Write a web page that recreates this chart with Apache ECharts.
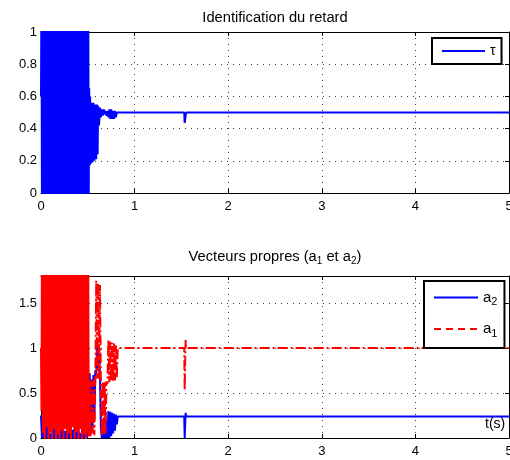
<!DOCTYPE html>
<html><head><meta charset="utf-8">
<script src="https://cdn.jsdelivr.net/npm/echarts@6/dist/echarts.min.js"></script>
<style>html,body{margin:0;padding:0;background:#fff;overflow:hidden}#c{width:510px;height:460px}</style>
</head><body><div id="c"></div>
<script>
// ---- data ----
const xTicks = [0, 1, 2, 3, 4, 5];
const tauTicks = [0, 0.2, 0.4, 0.6, 0.8, 1];
const aTicks = [0, 0.5, 1, 1.5];
const aMax = 1.8;

// tau(t) : identified delay
const tau = [
 [0,0.6],[0.005,1.3],[0.01,-0.05],[0.02,1.2],[0.03,-0.04],[0.04,1.4],[0.05,-0.05],[0.06,1.2],[0.07,-0.05],[0.075,1.2],[0.08,-0.05],[0.083,0.85],[0.087,-0.04],[0.09,1.3],
 [0.10,-0.05],[0.11,1.3],[0.12,-0.04],[0.13,1.5],[0.14,-0.05],[0.15,1.2],[0.16,-0.04],[0.17,1.3],[0.18,-0.05],[0.19,1.4],
 [0.20,-0.05],[0.21,1.2],[0.22,-0.03],[0.23,1.3],[0.24,-0.05],[0.25,1.5],[0.26,-0.05],[0.27,1.2],[0.28,-0.04],[0.29,1.3],
 [0.30,-0.05],[0.31,1.4],[0.32,-0.05],[0.33,1.2],[0.34,-0.03],[0.35,1.3],[0.36,-0.05],[0.37,1.5],[0.38,-0.05],[0.39,1.2],
 [0.40,-0.04],[0.41,1.3],[0.42,-0.05],[0.43,1.4],[0.44,-0.05],[0.45,1.2],[0.46,-0.03],[0.47,1.3],[0.48,-0.05],[0.49,1.5],
 [0.50,-0.05],[0.505,1.2],[0.51,-0.05],[0.515,0.65],[0.52,0.17],[0.525,0.6],[0.53,0.18],[0.54,0.56],[0.55,0.19],[0.56,0.56],
 [0.57,0.2],[0.58,0.55],[0.59,0.21],[0.60,0.55],[0.605,0.24],[0.61,0.54],[0.62,0.42],[0.63,0.53],[0.64,0.47],
 [0.65,0.52],[0.66,0.48],[0.67,0.52],[0.68,0.49],[0.69,0.51],[0.70,0.48],[0.71,0.51],[0.72,0.47],[0.73,0.52],
 [0.74,0.46],[0.75,0.52],[0.76,0.46],[0.77,0.51],[0.78,0.46],[0.79,0.51],[0.80,0.47],[0.81,0.5],[0.82,0.5],
 [1.53,0.5],[1.535,0.435],[1.545,0.435],[1.55,0.5],[5,0.5]
];

// a2(t) : eigenvector component (blue)
const a2 = [
 [0,0.25],[0.01,0],[0.02,0.1],[0.03,0],[0.04,0.06],[0.05,0],[0.06,0.3],[0.07,0],[0.08,0.12],[0.09,0],
 [0.10,0.05],[0.11,0],[0.12,0.08],[0.13,0],[0.14,0.15],[0.15,0],[0.16,0.04],[0.17,0],[0.18,0.1],[0.19,0],
 [0.20,0.06],[0.21,0],[0.22,0.12],[0.23,0],[0.24,0.05],[0.25,0],[0.26,0.08],[0.27,0],[0.28,0.1],[0.29,0],
 [0.30,0.14],[0.31,0],[0.32,0.06],[0.33,0],[0.34,0.09],[0.35,0],[0.36,0.12],[0.37,0],[0.38,0.07],[0.39,0],
 [0.40,0.1],[0.41,0],[0.42,0.05],[0.43,0],[0.44,0.11],[0.45,0],[0.46,0.08],[0.47,0],[0.48,0.06],[0.49,0],
 [0.50,0.2],[0.51,0.3],[0.52,0.72],[0.53,0.05],[0.54,0.65],[0.55,0.1],[0.56,0.7],[0.57,0.2],[0.58,0.75],
 [0.59,0.7],[0.60,1.1],[0.61,0.75],[0.62,1.0],[0.63,0.7],[0.64,0.1],[0.65,0],[0.66,0.08],[0.67,0],[0.68,0.05],
 [0.69,0],[0.70,0.2],[0.71,0],[0.72,0.3],[0.73,0],[0.74,0.29],[0.75,0.02],[0.76,0.28],[0.77,0.05],[0.78,0.27],
 [0.79,0.08],[0.80,0.26],[0.81,0.15],[0.82,0.24],[1.53,0.24],[1.535,0],[1.545,0.28],[1.55,0.24],[5,0.24]
];

// a1(t) during the saturated burst (0 - 0.51 s), drawn solid as it appears
const a1Burst = [
 [0,1.0],[0.005,0.3],[0.01,2.2],[0.02,0.05],[0.03,2.1],[0.04,-0.05],[0.05,2.3],[0.06,0.12],[0.07,2.2],[0.08,-0.05],
 [0.09,2.1],[0.10,0.06],[0.11,2.3],[0.12,-0.05],[0.13,2.2],[0.14,0.1],[0.15,2.1],[0.16,-0.05],[0.17,2.3],[0.18,0.04],
 [0.19,2.2],[0.20,-0.05],[0.21,2.1],[0.22,0.08],[0.23,2.3],[0.24,-0.05],[0.25,2.2],[0.26,0.1],[0.27,2.1],[0.28,-0.05],
 [0.29,2.3],[0.30,0.05],[0.31,2.2],[0.32,-0.05],[0.33,2.1],[0.34,0.12],[0.35,2.3],[0.36,-0.05],[0.37,2.2],[0.38,0.07],
 [0.39,2.1],[0.40,-0.05],[0.41,2.3],[0.42,0.1],[0.43,2.2],[0.44,-0.05],[0.45,2.1],[0.46,0.04],[0.47,2.3],[0.48,-0.05],
 [0.49,2.2],[0.50,0.06],[0.505,2.0],[0.51,0.02]
];
// a1(t) after the burst (dashed)
const a1 = [
 [0.51,0.02],[0.52,0.64],[0.53,0.02],[0.54,0.63],[0.55,0.05],[0.56,0.65],
 [0.57,0.03],[0.58,0.64],[0.59,1.75],[0.60,0.66],[0.61,1.72],[0.62,0.65],[0.63,1.7],[0.64,0.6],[0.65,0.02],
 [0.66,0.63],[0.67,0.04],[0.68,0.62],[0.69,0.05],[0.70,0.63],[0.71,0.6],[0.72,1.09],[0.73,0.62],[0.74,1.07],
 [0.75,0.63],[0.76,1.06],[0.77,0.63],[0.78,1.05],[0.79,0.64],[0.80,1.03],[0.81,0.66],[0.82,1.0],
 [1.53,1.0],[1.535,0.53],[1.545,1.09],[1.55,1.0],[5,1.0]
];

// ---- chart ----
const FONT = '"Liberation Sans", Arial, sans-serif';
const BLUE = '#0000ff', RED = '#ff0000';
const gridDot = { show: true, lineStyle: { color: '#000', opacity: 0.75, width: 1, type: [1, 5] } };
const step = a => a[1] - a[0];

function xAxes(gi) {
  const base = { type: 'value', gridIndex: gi, min: xTicks[0], max: xTicks[xTicks.length - 1], interval: step(xTicks),
    axisLine: { show: true, onZero: false, lineStyle: { color: '#000', width: 1 } },
    axisTick: { show: true, inside: true, length: 4, lineStyle: { color: '#000' } } };
  return [
    Object.assign({}, base, { position: 'bottom',
      axisLabel: { color: '#000', fontSize: 13, fontFamily: FONT, margin: 7 },
      splitLine: gridDot }),
    Object.assign({}, base, { position: 'top', axisLabel: { show: false }, splitLine: { show: false } })
  ];
}
function yAxes(gi, ticks, max) {
  const base = { type: 'value', gridIndex: gi, min: ticks[0], max: max, interval: step(ticks),
    axisLine: { show: true, onZero: false, lineStyle: { color: '#000', width: 1 } },
    axisTick: { show: true, inside: true, length: 4, lineStyle: { color: '#000' } } };
  return [
    Object.assign({}, base, { position: 'left',
      axisLabel: { color: '#000', fontSize: 13, fontFamily: FONT, margin: 4, showMaxLabel: max === ticks[ticks.length - 1] },
      splitLine: gridDot }),
    Object.assign({}, base, { position: 'right', axisLabel: { show: false }, splitLine: { show: false } })
  ];
}

const subRich = {
  n: { fontSize: 14.7, fontFamily: FONT, color: '#000' },
  s: { fontSize: 10, fontFamily: FONT, color: '#000', padding: [9, 0, 0, 0] }
};

const option = {
  animation: false,
  backgroundColor: '#fff',
  title: [
    { text: 'Identification du retard', left: 270, textAlign: 'center', top: 5,
      textStyle: { fontSize: 14.7, fontWeight: 'normal', fontFamily: FONT, color: '#000' } },
    { text: '{n|Vecteurs propres (a}{s|1}{n| et a}{s|2}{n|)}', left: 270, textAlign: 'center', top: 242,
      textStyle: { fontSize: 14.7, fontWeight: 'normal', fontFamily: FONT, color: '#000', rich: subRich } }
  ],
  grid: [
    { left: 41, right: 1, top: 32, height: 161, outerBoundsMode: 'none', containLabel: false },
    { left: 41, right: 1, top: 276, height: 162, outerBoundsMode: 'none', containLabel: false }
  ],
  xAxis: [...xAxes(0), ...xAxes(1)],
  yAxis: [...yAxes(0, tauTicks, tauTicks[tauTicks.length - 1]), ...yAxes(1, aTicks, aMax)],
  legend: [
    { left: 432, top: 38, orient: 'vertical', padding: [6, 6, 6, 9], itemWidth: 43, itemHeight: 14, itemGap: 0,
      borderColor: '#000', borderWidth: 2, backgroundColor: '#fff',
      itemStyle: { opacity: 0 },
      textStyle: { fontSize: 14, fontFamily: FONT, color: '#000' },
      data: [{ name: 'τ' }] },
    { left: 424, top: 281, orient: 'vertical', padding: [9, 7, 9, 9], itemWidth: 44, itemHeight: 14, itemGap: 14, itemTextGap: 4,
      borderColor: '#000', borderWidth: 2, backgroundColor: '#fff',
      itemStyle: { opacity: 0 },
      formatter: n => '{n|a}{s|' + n.slice(1) + '}',
      textStyle: { fontSize: 14, fontFamily: FONT, color: '#000',
        rich: { n: { fontSize: 15, fontFamily: FONT, color: '#000' }, s: { fontSize: 11, fontFamily: FONT, color: '#000', padding: [9, 0, 0, 0] } } },
      data: [{ name: 'a2' }, { name: 'a1', lineStyle: { type: [7, 5] } }] }
  ],
  graphic: [
    { type: 'text', left: 485, top: 417, z: 100,
      style: { text: 't(s)', font: '14px ' + FONT, fill: '#000' } }
  ],
  series: [
    { name: 'τ', type: 'line', xAxisIndex: 0, yAxisIndex: 0, data: tau, symbol: 'none',
      lineStyle: { color: BLUE, width: 2 }, itemStyle: { color: BLUE } },
    { name: 'a2', type: 'line', xAxisIndex: 2, yAxisIndex: 2, data: a2, symbol: 'none',
      lineStyle: { color: BLUE, width: 2 }, itemStyle: { color: BLUE } },
    { name: 'a1', type: 'line', xAxisIndex: 2, yAxisIndex: 2, data: a1, symbol: 'none',
      lineStyle: { color: RED, width: 2, type: [10, 3, 2, 3] }, itemStyle: { color: RED } },
    { name: 'a1', type: 'line', xAxisIndex: 2, yAxisIndex: 2, data: a1Burst, symbol: 'none',
      lineStyle: { color: RED, width: 2 }, itemStyle: { color: RED } }
  ]
};

const chart = echarts.init(document.getElementById('c'), null, { renderer: 'canvas' });
chart.setOption(option);
</script></body></html>
